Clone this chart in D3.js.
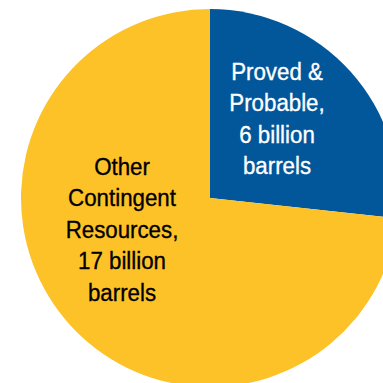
<!DOCTYPE html>
<html>
<head>
<meta charset="utf-8">
<script src="https://cdn.jsdelivr.net/npm/d3@7"></script>
<style>
  html, body { margin: 0; padding: 0; background: #fff; }
  text { font-family: "Liberation Sans", Arial, sans-serif; }
</style>
</head>
<body>
<svg id="chart"></svg>
<script>
// reserves split, billion barrels
var categories = ['Proved & Probable', 'Other Contingent Resources'];
var values = [6.2, 17];
var labelLines = [
  ['Proved &', 'Probable,', '6 billion', 'barrels'],
  ['Other', 'Contingent', 'Resources,', '17 billion', 'barrels']
];

var dims = { width: 383, height: 383 };
var cx = 210, cy = 198, radius = 189;

var colors = d3.scaleOrdinal()
  .domain(categories)
  .range(['#02569A', '#FDC228']);
var textColors = d3.scaleOrdinal()
  .domain(categories)
  .range(['#ffffff', '#000000']);

// label anchor (centre x, first baseline y) for each slice
var labelPos = [[277, 80], [122, 175]];
var lineHeight = 31.5;
var squeeze = 0.91; // the original font is condensed

var svg = d3.select('#chart')
  .attr('width', dims.width)
  .attr('height', dims.height);

var g = svg.append('g').attr('transform', 'translate(' + cx + ',' + cy + ')');

var pie = d3.pie().sort(null).value((d) => d.value);
var arc = d3.arc().innerRadius(0).outerRadius(radius);

var data = categories.map((c, i) => ({ name: c, value: values[i], lines: labelLines[i], pos: labelPos[i] }));

g.selectAll('path')
  .data(pie(data))
  .enter()
  .append('path')
  .attr('d', arc)
  .attr('fill', (d) => colors(d.data.name));

var labels = svg.selectAll('text.label')
  .data(data)
  .enter()
  .append('text')
  .attr('class', 'label')
  .attr('text-anchor', 'middle')
  .attr('font-size', 24.5)
  .attr('transform', (d) => 'translate(' + d.pos[0] + ',' + d.pos[1] + ') scale(' + squeeze + ',1)')
  .attr('fill', (d) => textColors(d.name))
  .attr('stroke', (d) => textColors(d.name))
  .attr('stroke-width', 0.35);

labels.selectAll('tspan')
  .data((d) => d.lines)
  .enter()
  .append('tspan')
  .attr('x', 0)
  .attr('y', (d, i) => i * lineHeight)
  .text((d) => d);
</script>
</body>
</html>
